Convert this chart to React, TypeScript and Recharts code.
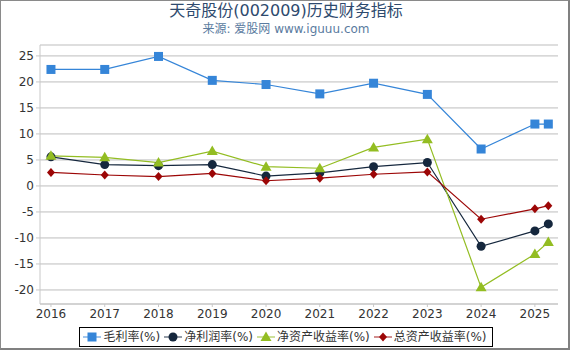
import { CartesianGrid, Line, LineChart, XAxis, YAxis } from "recharts";

// x positions: annual reports, last one is 2025 Q1
const periods = [2016, 2017, 2018, 2019, 2020, 2021, 2022, 2023, 2024, 2025, 2025.25];
const grossMargin = [22.4, 22.4, 24.9, 20.3, 19.5, 17.7, 19.75, 17.6, 7.1, 11.9, 11.9];
const netMargin = [5.6, 4.1, 3.9, 4.1, 1.9, 2.5, 3.7, 4.5, -11.6, -8.65, -7.3];
const roe = [5.8, 5.5, 4.5, 6.7, 3.7, 3.4, 7.4, 9.0, -19.5, -13.1, -10.8];
const roa = [2.6, 2.1, 1.8, 2.4, 1.0, 1.5, 2.25, 2.7, -6.4, -4.4, -3.8];

const yearTicks = [2016, 2017, 2018, 2019, 2020, 2021, 2022, 2023, 2024, 2025];
const valueTicks = [-20, -15, -10, -5, 0, 5, 10, 15, 20, 25];

const series = [
  { key: "gross", name: "毛利率(%)", color: "#3585d8", shape: "square" },
  { key: "net", name: "净利润率(%)", color: "#15273d", shape: "circle" },
  { key: "roe", name: "净资产收益率(%)", color: "#93bd22", shape: "triangle" },
  { key: "roa", name: "总资产收益率(%)", color: "#9c0606", shape: "diamond" },
];

const data = periods.map((p, i) => ({
  p,
  gross: grossMargin[i],
  net: netMargin[i],
  roe: roe[i],
  roa: roa[i],
}));

const font = "'DejaVu Sans', 'Noto Sans CJK SC', sans-serif";

function marker(shape: string, color: string, cx: number, cy: number, key?: string) {
  if (shape === "square")
    return <rect key={key} x={cx - 4.5} y={cy - 4.5} width={9} height={9} fill={color} />;
  if (shape === "circle") return <circle key={key} cx={cx} cy={cy} r={4.5} fill={color} />;
  if (shape === "triangle")
    return (
      <polygon
        key={key}
        points={`${cx},${cy - 5.5} ${cx + 5.5},${cy + 4} ${cx - 5.5},${cy + 4}`}
        fill={color}
      />
    );
  return (
    <polygon
      key={key}
      points={`${cx},${cy - 4.5} ${cx + 4},${cy} ${cx},${cy + 4.5} ${cx - 4},${cy}`}
      fill={color}
    />
  );
}

function LegendBox() {
  return (
    <div
      style={{
        display: "flex",
        alignItems: "center",
        gap: 4,
        border: "1px solid #000",
        padding: "1px 5px 1px 3px",
        fontFamily: font,
        fontSize: 12,
        color: "#333",
        background: "#fff",
        whiteSpace: "nowrap",
        lineHeight: "16px",
      }}
    >
      {series.map((s) => (
        <span key={s.key} style={{ display: "flex", alignItems: "center", gap: 2 }}>
          <svg width={18} height={14}>
            <line x1={0} y1={7} x2={18} y2={7} stroke={s.color} strokeWidth={1.5} opacity={0.6} />
            {marker(s.shape, s.color, 9, 7)}
          </svg>
          {s.name}
        </span>
      ))}
    </div>
  );
}

export default function App() {
  return (
    <div
      style={{
        position: "fixed",
        top: 0,
        left: 0,
        width: 567,
        height: 347,
        borderTop: "1px solid #8a8a8a",
        borderLeft: "1px solid #8a8a8a",
        borderRight: "2px solid #808080",
        borderBottom: "2px solid #808080",
        background: "#fff",
        overflow: "hidden",
      }}
    >
      <div
        style={{
          position: "absolute",
          top: 0,
          left: 0,
          width: 570,
          textAlign: "center",
          fontFamily: font,
          fontSize: 16,
          color: "#2e4a6e",
          lineHeight: "20px",
        }}
      >
        天奇股份(002009)历史财务指标
      </div>
      <div
        style={{
          position: "absolute",
          top: 19,
          left: 0,
          width: 570,
          textAlign: "center",
          fontFamily: font,
          fontSize: 12,
          color: "#5a7ba0",
          lineHeight: "18px",
        }}
      >
        来源: 爱股网 www.iguuu.com
      </div>
      <div style={{ position: "absolute", top: -1, left: -1 }}>
        <LineChart
          width={570}
          height={350}
          data={data}
          margin={{ top: 45, right: 12, left: 0, bottom: 26 }}
        >
          <CartesianGrid stroke="#bdbdbd" vertical={false} />
          <XAxis
            dataKey="p"
            type="number"
            domain={[2015.796, 2025.43]}
            ticks={yearTicks}
            allowDataOverflow
            height={20}
            stroke="#c8c8c8"
            tickSize={3}
            tick={{ fill: "#333", fontSize: 12, fontFamily: font }}
          />
          <YAxis
            type="number"
            domain={[-22.7, 27.1]}
            ticks={valueTicks}
            allowDataOverflow
            width={40}
            stroke="#c8c8c8"
            tickSize={4}
            tick={{ fill: "#333", fontSize: 12, fontFamily: font }}
          />
          {series.map((s) => (
            <Line
              key={s.key}
              dataKey={s.key}
              name={s.name}
              stroke={s.color}
              strokeWidth={1.2}
              type="linear"
              isAnimationActive={false}
              dot={(props: any) => marker(s.shape, s.color, props.cx, props.cy, `${s.key}-${props.index}`)}
              activeDot={false}
            />
          ))}
        </LineChart>
      </div>
      <div
        style={{
          position: "absolute",
          top: 326,
          left: 0,
          width: 570,
          display: "flex",
          justifyContent: "center",
        }}
      >
        <LegendBox />
      </div>
    </div>
  );
}
